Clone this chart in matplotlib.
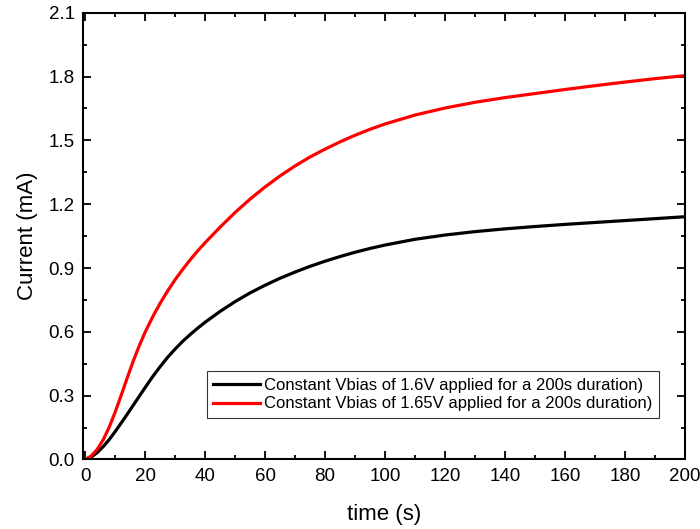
import matplotlib
matplotlib.use("Agg")
import matplotlib.pyplot as plt
from matplotlib.ticker import MultipleLocator

plt.rcParams['font.family'] = ['Liberation Sans', 'DejaVu Sans']

# Time axis (s)
time_s = [0, 2, 4, 6, 8, 10, 12, 14, 16, 18, 20, 22.5, 25, 27.5, 30, 32.5,
          35, 37.5, 40, 45, 50, 55, 60, 65, 70, 75, 80, 85, 90, 95, 100,
          110, 120, 130, 140, 150, 160, 170, 180, 190, 200]

# Current (mA) at 1.6 V bias
current_16 = [0.0, 0.011, 0.032, 0.060, 0.093, 0.131, 0.171, 0.212, 0.254,
              0.296, 0.338, 0.389, 0.436, 0.480, 0.519, 0.555, 0.587, 0.617,
              0.645, 0.696, 0.742, 0.783, 0.819, 0.852, 0.881, 0.908, 0.932,
              0.954, 0.974, 0.992, 1.008, 1.035, 1.055, 1.071, 1.084, 1.095,
              1.105, 1.114, 1.123, 1.132, 1.141]

# Current (mA) at 1.65 V bias
current_165 = [0.0, 0.016, 0.047, 0.092, 0.151, 0.222, 0.301, 0.382, 0.461,
               0.533, 0.598, 0.670, 0.734, 0.792, 0.845, 0.893, 0.938, 0.980,
               1.019, 1.092, 1.161, 1.224, 1.281, 1.333, 1.380, 1.422, 1.459,
               1.493, 1.524, 1.552, 1.577, 1.619, 1.652, 1.679, 1.701, 1.720,
               1.739, 1.757, 1.774, 1.790, 1.804]

LABELS = [
    "Constant Vbias of 1.6V applied for a 200s duration)",
    "Constant Vbias of 1.65V applied for a 200s duration)",
]

fig = plt.figure(figsize=(7.0, 5.29), dpi=100)
ax = fig.add_axes([0.1186, 0.1314, 0.86, 0.8446])

ax.plot(time_s, current_16, color='black', linewidth=2.3, label=LABELS[0])
ax.plot(time_s, current_165, color='#ff0000', linewidth=2.3, label=LABELS[1])

ax.set_xlim(-0.7, 200)
ax.set_ylim(0, 2.1)
ax.xaxis.set_major_locator(MultipleLocator(20))
ax.xaxis.set_minor_locator(MultipleLocator(10))
ax.yaxis.set_major_locator(MultipleLocator(0.3))
ax.yaxis.set_minor_locator(MultipleLocator(0.15))
ax.yaxis.set_major_formatter(plt.FormatStrFormatter('%.1f'))

ax.tick_params(which='both', direction='in', top=True, right=True,
               width=1.3, labelsize=13.5)
ax.tick_params(which='major', length=6, pad=6)
ax.tick_params(which='minor', length=3)
for side in ax.spines.values():
    side.set_linewidth(1.5)

ax.set_xlabel('time (s)', fontsize=16, labelpad=14)
ax.set_ylabel('Current (mA)', fontsize=16, labelpad=7.5)

leg = ax.legend(loc='lower right', bbox_to_anchor=(0.957, 0.0928),
                fontsize=12, frameon=True, fancybox=False,
                handlelength=2.8, handletextpad=0.25, borderpad=0.4,
                labelspacing=0.22, borderaxespad=0)
leg.get_frame().set_edgecolor('black')
leg.get_frame().set_linewidth(0.8)

fig.savefig('out.png', dpi=100, facecolor='white')
